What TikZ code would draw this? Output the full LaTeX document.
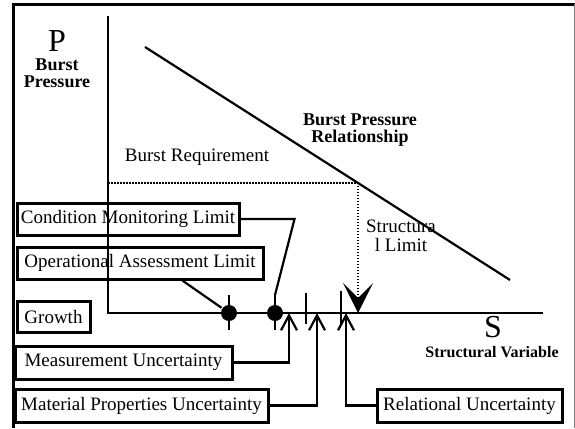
\documentclass[tikz,border=0pt]{standalone}
\usepackage{fontspec}
\setmainfont{Liberation Serif}
\usetikzlibrary{arrows.meta}
\usetikzlibrary{positioning}
\usetikzlibrary{calc}

\begin{document}
\begin{tikzpicture}[x=1pt, y=-1pt, line width=2.2pt]
	\tikzstyle{limitbox}=[draw=black, line width=3pt, minimum height=32pt, inner sep=0pt, font=\fontsize{19}{20}\selectfont]
	\tikzstyle{dotnode}=[circle, fill=black, minimum size=16pt, inner sep=0pt]
	\tikzstyle{uarrow}=[-{Straight Barb[length=15pt,width=16pt]}]
	\tikzstyle{reqline}=[dash pattern=on 1.5pt off 1.5pt, line width=1.6pt]
	\tikzstyle{plain}=[font=\fontsize{19}{19}\selectfont, align=center, inner sep=0pt]
	\tikzstyle{heavy}=[font=\bfseries\fontsize{18}{17}\selectfont, align=center, inner sep=0pt]

	\useasboundingbox (0,0) rectangle (575,428);
	% frame
	\draw[line width=3pt] (13,428) -- (13,4.5) -- (575,4.5);
	\draw[gray, line width=1pt] (574,4.5) -- (574,428);

	% axes
	\coordinate (o) at (108,313);
	\coordinate (py) at (108,16);
	\coordinate (sx) at (543,313);
	\draw[line width=2.8pt] (py) -- (o) -- (sx);

	% burst pressure relationship
	\coordinate (r0) at (145,47);
	\coordinate (r1) at (510,280);
	\draw (r0) -- (r1);
	\coordinate (q0) at ($(r0)!0.5836!(r1)$);
	\coordinate (q1) at (o |- q0);
	\draw[reqline] (q1) -- (q0);
	\draw[reqline, -{Stealth[length=30pt,width=30pt,inset=15pt]}] (q0) -- (q0 |- o);

	% labels
	\node (l0) at (57,41) [inner sep=0pt] {\fontsize{32}{32}\selectfont P};
	\node (l1) at (57,65) [heavy] {Burst};
	\node (l1b) at (57,82) [heavy] {Pressure};
	\node (l2) at (360,130) [heavy] {Burst Pressure\\Relationship};
	\node (l3) at (197,157) [plain] {Burst Requirement};
	\node (l4) at (401,236) [plain] {Structura\\l Limit};
	\node (l5) at (493,327) [inner sep=0pt] {\fontsize{32}{32}\selectfont S};
	\node (l6) at (492,352) [heavy, font=\bfseries\fontsize{16}{16}\selectfont] {Structural Variable};

	% boxes
	\node (b0) at (128,219) [limitbox, minimum width=222pt] {Condition Monitoring Limit};
	\node (b1) at (140,263) [limitbox, minimum width=246pt] {Operational Assessment Limit};
	\node (b2) at (53.5,316.5) [limitbox, minimum width=73pt, minimum height=31pt] {Growth};
	\node (b3) at (123.5,362.5) [limitbox, minimum width=217pt, minimum height=33pt] {Measurement Uncertainty};
	\node (b4) at (141.5,405.5) [limitbox, minimum width=253pt, minimum height=33pt] {Material Properties Uncertainty};
	\node (b5) at (469.5,405.5) [limitbox, minimum width=185pt, minimum height=33pt] {Relational Uncertainty};

	% limits on the axis
	\node (d0) at (229,313) [dotnode] {};
	\node (d1) at (275,313) [dotnode] {};
	\draw ($(d0)+(0,-18)$) -- ($(d0)+(0,17)$);
	\draw ($(d1)+(0,-18)$) -- ($(d1)+(0,17)$);
	\coordinate (k0) at (306,293);
	\coordinate (k1) at (341,291);
	\draw (k0) -- ++(0,31);
	\draw (k1) -- ++(0,33);

	\coordinate (m0) at ($(b1.south west)!0.67!(b1.south east)$);
	\draw (m0) -- (d0);
	\draw (b0.east) -- ++(54,0) -- ($(d1)+(0,-18)$);

	% uncertainties
	\coordinate (a0) at (289,313);
	\coordinate (a1) at (317,313);
	\coordinate (a2) at (346,313);
	\draw[uarrow] (b3.east) -| (a0);
	\draw[uarrow] (b4.east) -| (a1);
	\draw[uarrow] (b5.west) -| (a2);
\end{tikzpicture}
\end{document}
